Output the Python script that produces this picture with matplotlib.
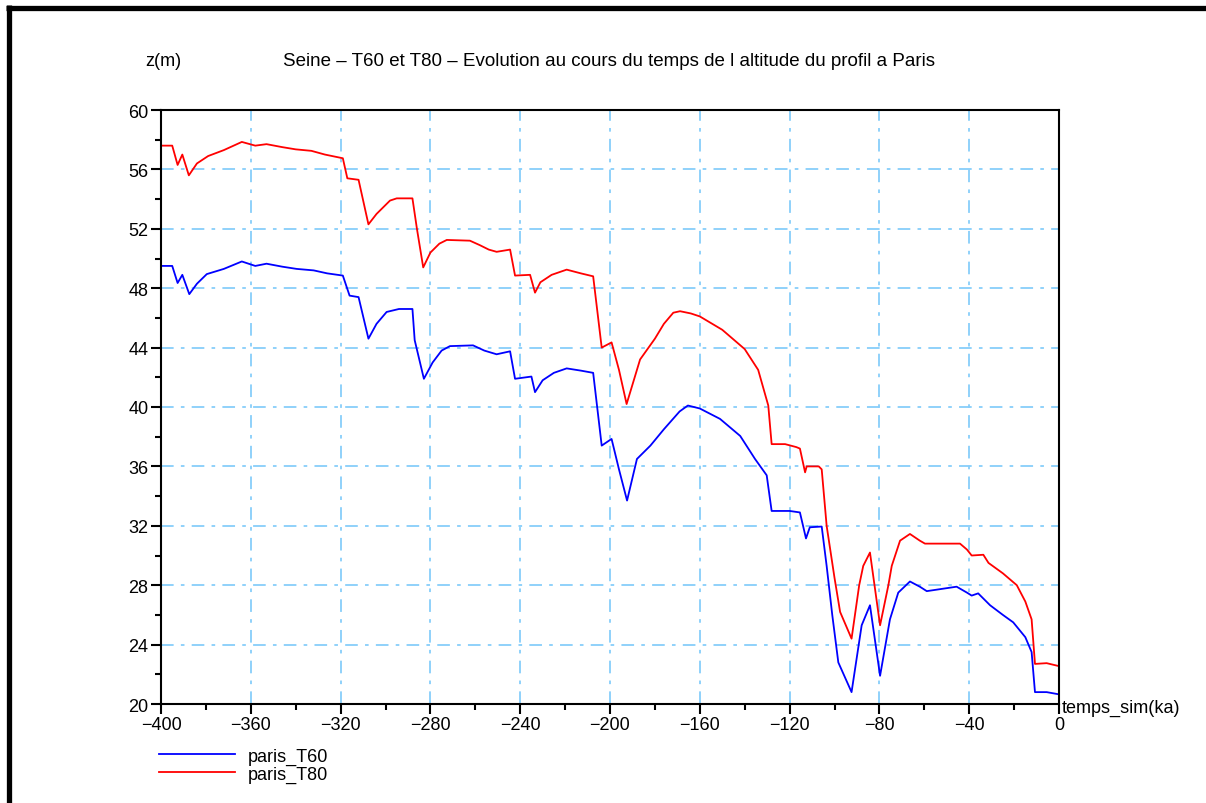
import numpy as np
import matplotlib
matplotlib.use('Agg')
import matplotlib.pyplot as plt
from matplotlib.lines import Line2D
from matplotlib.ticker import MultipleLocator

plt.rcParams['font.family'] = ['Liberation Sans', 'DejaVu Sans']

# time (ka) and altitude (m) for the two profiles
t_T80 = [-400, -395, -392.6, -390.5, -387.6, -384, -379, -372, -364, -358, -353, -346, -340, -333,
         -327, -319, -317, -312, -307.6, -304, -298, -295, -288, -286, -283.2, -280, -276, -272.7,
         -262.4, -258, -254, -250.5, -244.5, -242.3, -235.6, -233.4, -231, -226, -219.3, -213,
         -207.5, -203.7, -199.3, -196, -192.6, -189, -186.6, -180, -176, -171.8, -168.8, -164,
         -160, -150, -140, -134, -129.5, -128, -122, -117, -115.4, -113.1, -112.4, -107, -105.7,
         -103.5, -100, -97.5, -92.4, -89, -87.2, -84.2, -79.7, -76, -74.5, -70.8, -66.4, -62,
         -59.7, -44.1, -41, -38.9, -33.7, -31.4, -25, -18.8, -15, -12.2, -10.7, -5.5, 0]
z_T80 = [57.6, 57.6, 56.3, 57.0, 55.6, 56.4, 56.9, 57.3, 57.85, 57.6, 57.7, 57.5, 57.35, 57.25,
         57.0, 56.75, 55.4, 55.3, 52.3, 53.0, 53.9, 54.05, 54.05, 52.0, 49.4, 50.4, 51.0, 51.25,
         51.2, 50.9, 50.6, 50.45, 50.6, 48.85, 48.9, 47.7, 48.4, 48.9, 49.25, 49.0,
         48.8, 44.0, 44.35, 42.5, 40.2, 42.0, 43.2, 44.6, 45.6, 46.35, 46.45, 46.3,
         46.1, 45.2, 43.9, 42.5, 40.1, 37.5, 37.5, 37.3, 37.2, 35.6, 36.0, 36.0, 35.8,
         32.0, 28.5, 26.2, 24.4, 28.0, 29.3, 30.2, 25.3, 28.0, 29.3, 31.0, 31.45, 31.0,
         30.8, 30.8, 30.4, 30.0, 30.05, 29.5, 28.8, 28.0, 26.9, 25.7, 22.7, 22.75, 22.55]

t_T60 = [-400, -395, -392.6, -390.5, -387.4, -384, -379.6, -372, -364, -358, -353, -346, -339.6,
         -332, -326, -319, -316, -312, -307.6, -304, -299.5, -294, -288, -287, -282.9, -279, -275,
         -271.3, -261, -256, -250.5, -244.5, -242.3, -235, -233.4, -230, -225, -219.3, -213,
         -207.5, -203.7, -199.3, -196, -192.4, -188, -182, -176, -169, -165.3, -160, -151, -142,
         -135.4, -130.2, -128, -120, -115.4, -112.7, -111, -105.7, -103.5, -101, -98.3, -92.4,
         -87.9, -84.2, -79.7, -75.3, -71.6, -66.4, -62, -58.9, -45.6, -41, -38.9, -36, -30.7,
         -25, -20.4, -15, -12.2, -10.7, -5.5, 0]
z_T60 = [49.5, 49.5, 48.35, 48.9, 47.6, 48.3, 48.95, 49.3, 49.8, 49.5, 49.65, 49.45, 49.3,
         49.2, 49.0, 48.85, 47.5, 47.4, 44.6, 45.6, 46.4, 46.6, 46.6, 44.5, 41.9, 43.0, 43.8,
         44.1, 44.15, 43.8, 43.55, 43.75, 41.9, 42.05, 41.0, 41.8, 42.3, 42.6, 42.45,
         42.3, 37.4, 37.85, 35.8, 33.7, 36.5, 37.4, 38.5, 39.7, 40.1, 39.9, 39.2, 38.05,
         36.5, 35.4, 33.0, 33.0, 32.9, 31.15, 31.9, 31.95, 29.3, 26.0, 22.8, 20.8,
         25.3, 26.65, 21.9, 25.7, 27.5, 28.25, 27.9, 27.6, 27.9, 27.5, 27.3, 27.45, 26.65,
         26.0, 25.5, 24.5, 23.5, 20.8, 20.8, 20.65]

fig = plt.figure(figsize=(12.06, 8.04), dpi=100)
ax = fig.add_axes([161/1206, 1-705/804, 898/1206, 594/804])

ax.plot(t_T60, z_T60, color='#0000ff', lw=1.3, label='paris_T60')
ax.plot(t_T80, z_T80, color='#ff0000', lw=1.3, label='paris_T80')

ax.set_xlim(-400, 0)
ax.set_ylim(20, 60)
ax.xaxis.set_major_locator(MultipleLocator(40))
ax.xaxis.set_minor_locator(MultipleLocator(20))
ax.yaxis.set_major_locator(MultipleLocator(4))
ax.yaxis.set_minor_locator(MultipleLocator(2))
ax.tick_params(which='major', direction='out', length=7, width=1.5, labelsize=13, pad=2)
ax.tick_params(which='minor', direction='out', length=4, width=1.5)
ax.set_xticklabels([f'{int(v)}'.replace('-', '\u2212') for v in ax.get_xticks()])
ax.set_yticklabels([f'{int(v)}' for v in ax.get_yticks()])
for s in ax.spines.values():
    s.set_linewidth(1.5)
ax.grid(True, which='major', color='#87cefa', lw=1.3, linestyle=(0, (7, 4, 2, 4)))
ax.set_axisbelow(True)

fig.text(163/1206, 1-62/804, 'z(m)', fontsize=13, ha='center', va='center')
fig.text(609/1206, 1-62/804,
         'Seine \u2013 T60 et T80 \u2013 Evolution au cours du temps de l altitude du profil a Paris',
         fontsize=13.5, ha='center', va='center')
fig.text(1062/1206, 1-708/804, 'temps_sim(ka)', fontsize=13, ha='left', va='center')

ax.legend(loc='upper left', bbox_to_anchor=(-0.002, -0.073), frameon=False, fontsize=13,
          handlelength=4.2, handletextpad=0.7, labelspacing=0.05, borderaxespad=0, borderpad=0)

# black frame (top and left)
fig.add_artist(Line2D([6/1206, 1.0], [1-8.5/804, 1-8.5/804], color='black', lw=3.8,
                      transform=fig.transFigure, solid_capstyle='butt'))
fig.add_artist(Line2D([8.5/1206, 8.5/1206], [0.0, 1-6/804], color='black', lw=3.8,
                      transform=fig.transFigure, solid_capstyle='butt'))

fig.savefig('out.png', dpi=100, facecolor='white')
